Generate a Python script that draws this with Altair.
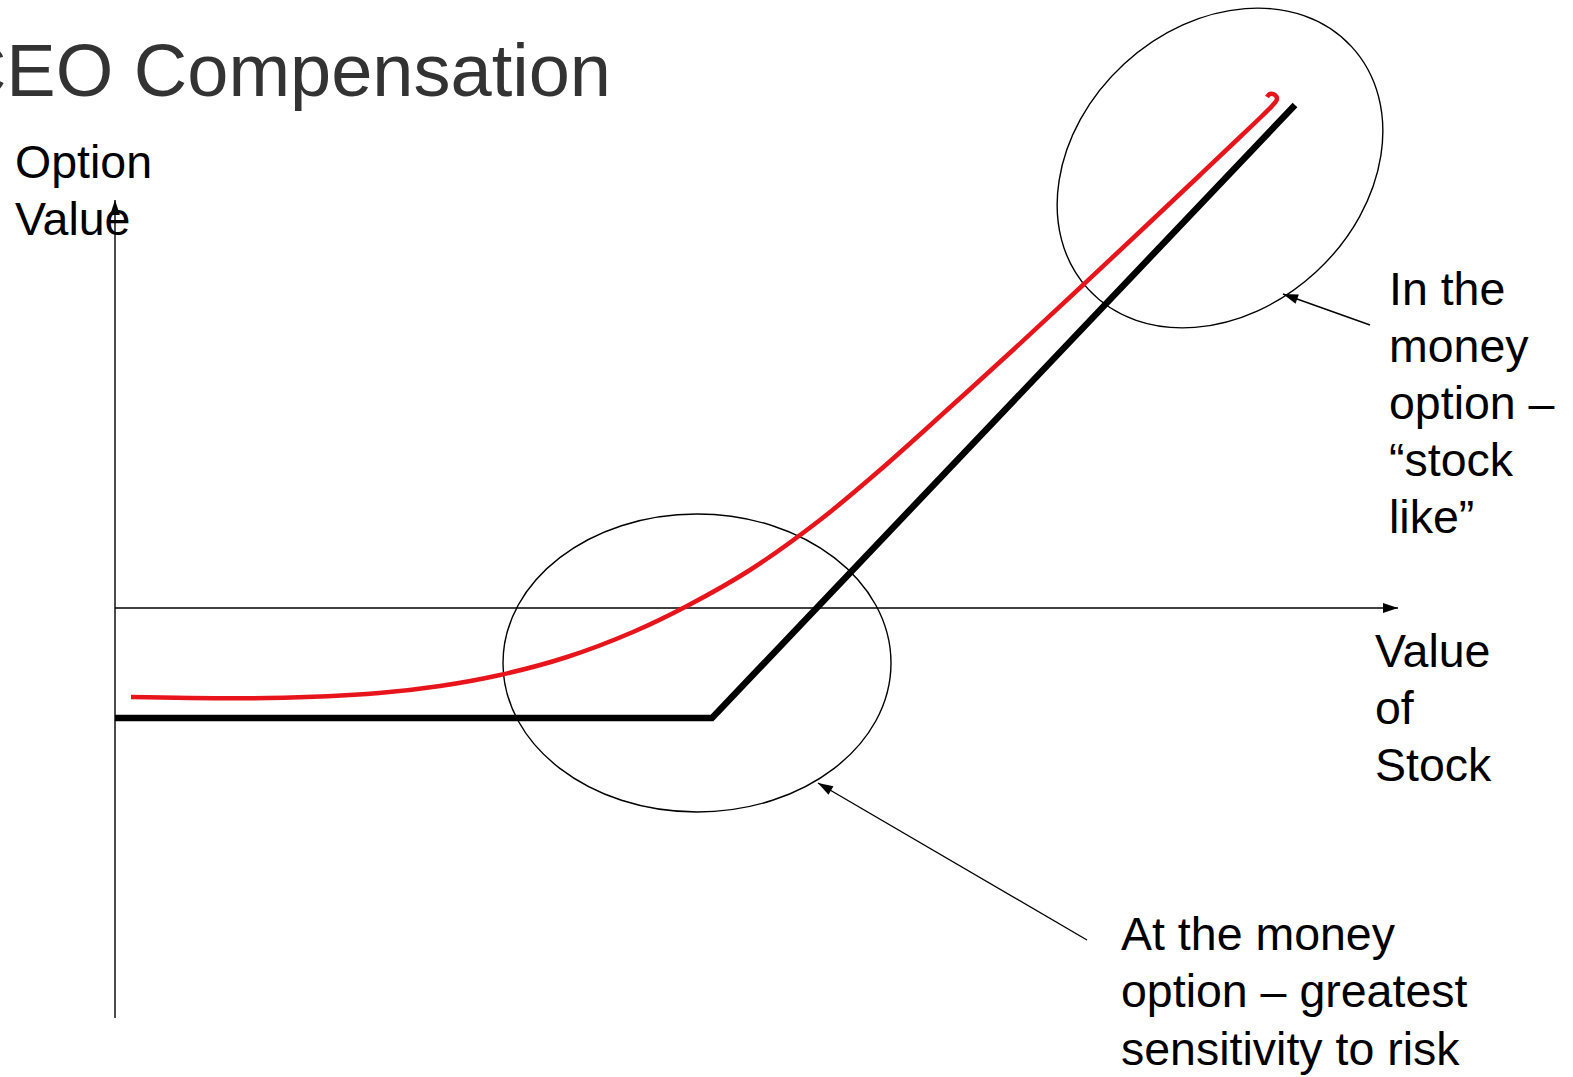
import math
import altair as alt
import pandas as pd

# ---- data (stock value on x, option value on y; origin at the axes crossing) ----
payoff_x = [0, 597, 1180]
payoff_y = [-110, -110, 503]

option_x = [16, 153, 264, 325, 385, 452, 518, 572, 635, 705, 765, 832, 898, 968, 1032, 1085, 1125, 1147, 1157, 1162, 1160, 1155, 1152]
option_y = [-89, -90, -85, -78, -67, -49, -24, 2, 38, 88, 138, 198, 258, 323, 383, 433, 471, 492, 502, 509, 513, 514, 511]

# axes (tail -> tip)
axis_x0 = [0, 0]
axis_y0 = [-410, 0]
axis_x1 = [0, 1283]
axis_y1 = [408, 0]

# callout arrows (tail -> tip)
call_x0 = [1255, 972]
call_y0 = [283, -332]
call_x1 = [1168, 703]
call_y1 = [314, -175]

# ellipses: centre, semi-axes, tilt (deg, counter-clockwise)
ell_cx = [582, 1105]
ell_cy = [-55, 440]
ell_a = [194, 179]
ell_b = [149, 141.5]
ell_tilt = [0, 42.7]

title_text = ["CEO Compensation"]
title_x = [496]
title_y = [512]

label_lines = ["Option", "Value",
               "In the", "money", "option –", "“stock", "like”",
               "Value", "of", "Stock",
               "At the money", "option – greatest", "sensitivity to risk"]
label_x = [-100, -100,
           1274, 1274, 1274, 1274, 1274,
           1260, 1260, 1260,
           1006, 1006, 1006]
label_y = [430, 373,
           303, 246, 189, 132, 75,
           -59, -116, -173,
           -342, -399, -457]

# ---- scales (1 px per unit in both directions) ----
xs = alt.Scale(domain=[-115, 1458], nice=False, zero=False)
ys = alt.Scale(domain=[-469, 608], nice=False, zero=False)


def X(f):
    return alt.X(f, type="quantitative", scale=xs, axis=None)


def Y(f):
    return alt.Y(f, type="quantitative", scale=ys, axis=None)


payoff_df = pd.DataFrame({"x": payoff_x, "y": payoff_y, "o": range(len(payoff_x))})
option_df = pd.DataFrame({"x": option_x, "y": option_y, "o": range(len(option_x))})

rule_df = pd.DataFrame({
    "x": axis_x0 + call_x0, "y": axis_y0 + call_y0,
    "x2": axis_x1 + call_x1, "y2": axis_y1 + call_y1,
})
head_x = axis_x1 + call_x1
head_y = axis_y1 + call_y1
head_ang = []
for x0, y0, x1, y1 in zip(axis_x0 + call_x0, axis_y0 + call_y0, axis_x1 + call_x1, axis_y1 + call_y1):
    a = math.degrees(math.atan2(x1 - x0, y1 - y0))
    head_ang.append(a % 360)
head_df = pd.DataFrame({"x": head_x, "y": head_y, "ang": head_ang})

arrow_path = "M0,0 L0.62,1.9 L-0.62,1.9 Z"

payoff = alt.Chart(payoff_df).mark_line(color="black", strokeWidth=6.5, strokeCap="butt", strokeJoin="miter").encode(
    x=X("x"), y=Y("y"), order="o:Q")

option = alt.Chart(option_df).mark_line(color="#e8141b", strokeWidth=4.5, strokeCap="butt", strokeJoin="round",
                                        interpolate="catmull-rom").encode(
    x=X("x"), y=Y("y"), order="o:Q")

rules = alt.Chart(rule_df).mark_rule(color="black", strokeWidth=1.4).encode(
    x=X("x"), y=Y("y"), x2="x2", y2="y2")

heads = alt.Chart(head_df).mark_point(shape=arrow_path, filled=True, color="black", opacity=1, size=250, strokeWidth=0).encode(
    x=X("x"), y=Y("y"), angle=alt.Angle("ang:Q", scale=None))

k = 0.5523
ell_layers = []
for cx, cy, a, b, t in zip(ell_cx, ell_cy, ell_a, ell_b, ell_tilt):
    r = b / a
    path = (f"M1,0 C1,{k*r:.4f} {k:.4f},{r:.4f} 0,{r:.4f} "
            f"C{-k:.4f},{r:.4f} -1,{k*r:.4f} -1,0 "
            f"C-1,{-k*r:.4f} {-k:.4f},{-r:.4f} 0,{-r:.4f} "
            f"C{k:.4f},{-r:.4f} 1,{-k*r:.4f} 1,0 Z")
    df = pd.DataFrame({"x": [cx], "y": [cy], "sz": [(2 * a) ** 2], "ang": [(360 - t) % 360]})
    ell_layers.append(
        alt.Chart(df).mark_point(shape=path, filled=False, color="black", opacity=1, strokeWidth=1.4).encode(
            x=X("x"), y=Y("y"), size=alt.Size("sz:Q", scale=None), angle=alt.Angle("ang:Q", scale=None)))

title_df = pd.DataFrame({"x": title_x, "y": title_y, "t": title_text})
title = alt.Chart(title_df).mark_text(align="right", baseline="alphabetic", font="Liberation Sans",
                                      fontSize=74, color="#333333").encode(
    x=X("x"), y=Y("y"), text="t:N")

label_df = pd.DataFrame({"x": label_x, "y": label_y, "t": label_lines})
labels = alt.Chart(label_df).mark_text(align="left", baseline="alphabetic", font="Liberation Sans",
                                       fontSize=46.5, color="black").encode(
    x=X("x"), y=Y("y"), text="t:N")

chart = alt.layer(rules, heads, *ell_layers, payoff, option, title, labels).properties(
    width=1573, height=1077, padding=0, autosize=alt.AutoSizeParams(type="none"), background="white"
).configure_view(stroke=None)

chart.save("out.html", embed_options={"renderer": "svg", "actions": False})
